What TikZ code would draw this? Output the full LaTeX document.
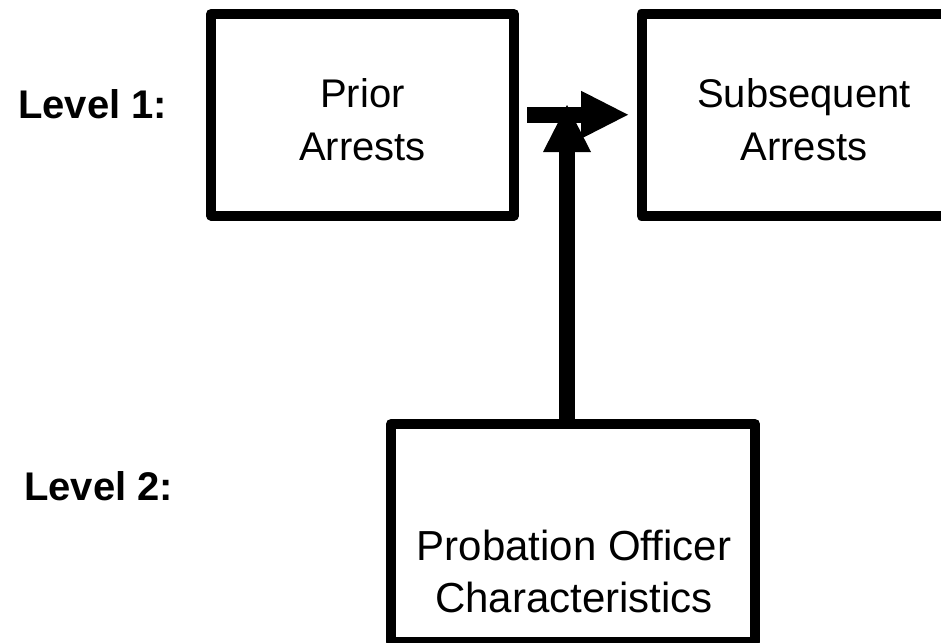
\documentclass[tikz,border=0pt]{standalone}
\usepackage{fontspec}
\setmainfont{Liberation Sans}
\usetikzlibrary{arrows.meta}
\begin{document}
\begin{tikzpicture}[x=1pt,y=-1pt,
  box/.style={draw=black, line width=10pt, line join=round, rectangle, inner sep=0pt},
  lbl/.style={anchor=base, inner sep=0pt, font=\fontsize{40}{48}\selectfont},
  lblb/.style={anchor=base, inner sep=0pt, font=\fontsize{42}{50}\selectfont},
  lvl/.style={anchor=base west, inner sep=0pt, font=\bfseries\fontsize{40}{48}\selectfont},
  bigarrow/.style={line width=16pt, -{Triangle[length=47pt,width=48pt,line width=0pt]}}
]
\useasboundingbox (0,0) rectangle (941,642);
\clip (0,0) rectangle (941,642);
\node[box, minimum width=303pt, minimum height=201.5pt] (prior) at (362.5,114.75) {};
\node[box, minimum width=325pt, minimum height=201.5pt] (subs) at (804,114.75) {};
\node[box, minimum width=364pt, minimum height=217.5pt] (prob) at (573,532.75) {};
\node[lbl] (prior1) at (362.5,107) {Prior};
\node[lbl] (prior2) at (362.5,160) {Arrests};
\node[lbl] (subs1) at (804,107) {Subsequent};
\node[lbl] (subs2) at (804,160) {Arrests};
\node[lblb] (prob1) at (574,560) {Probation Officer};
\node[lblb] (prob2) at (574,612) {Characteristics};
\node[lvl] (lvl1) at (18,118) {Level 1:};
\node[lvl] (lvl2) at (24,500) {Level 2:};
\coordinate (meet) at (567,105);
\draw[bigarrow] (prob.north -| meet) -- (meet);
\draw[bigarrow, shorten <=8pt, shorten >=8.5pt] (prior.east) -- (subs.west);
\end{tikzpicture}
\end{document}
